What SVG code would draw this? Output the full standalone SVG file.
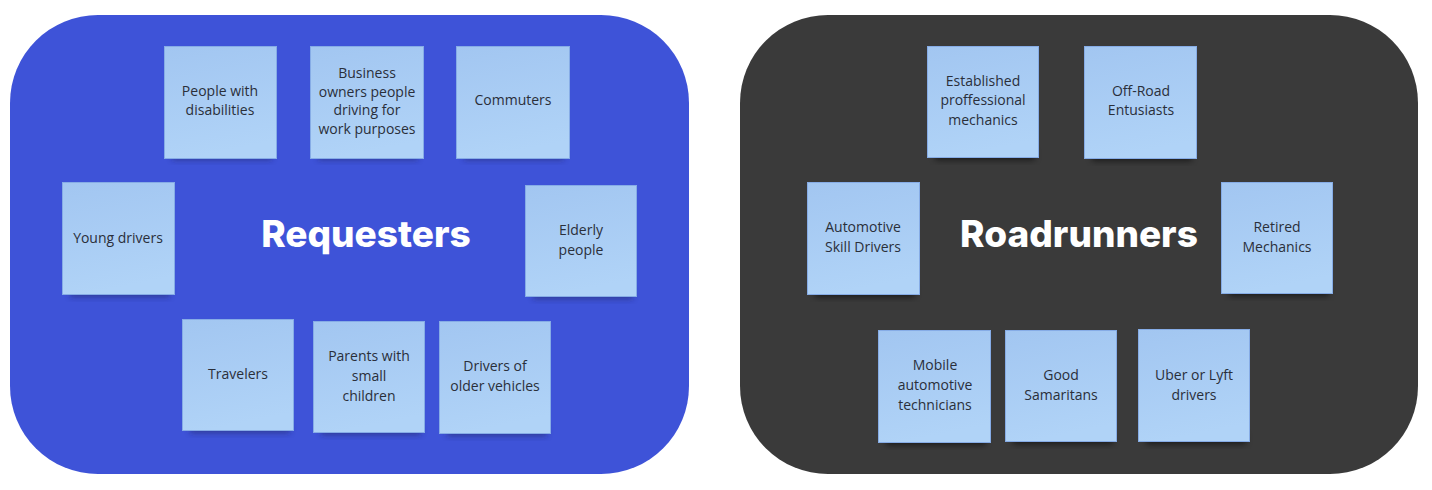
<svg xmlns="http://www.w3.org/2000/svg" width="1432" height="490" viewBox="0 0 1432 490">
<defs>
<linearGradient id="ng" x1="0" y1="0" x2="0.2" y2="1">
<stop offset="0" stop-color="#a2c6f1"/>
<stop offset="1" stop-color="#b0d3f7"/>
</linearGradient>
<filter id="sh" x="-20%" y="-50%" width="140%" height="200%">
<feGaussianBlur stdDeviation="3"/>
</filter>
<style>
.note rect.s{fill:#1a1f4a;opacity:0.45;filter:url(#sh)}
.dark .note rect.s{fill:#000;opacity:0.55}
.note rect.p{fill:url(#ng);stroke:#86ace6;stroke-width:1}
.note text{font-family:"Open Sans","Noto Sans",sans-serif;font-size:14px;fill:#2a2f3a;text-anchor:middle}
.title{font-family:Inter,"Liberation Sans",sans-serif;font-weight:800;font-size:37px;fill:#ffffff;text-anchor:middle}
</style>
</defs>
<rect x="0" y="0" width="1432" height="490" fill="#ffffff"/>

<g id="requesters">
<rect x="10" y="15" width="679" height="459" rx="88" ry="88" fill="#3e53d8"/>
<text class="title" x="366" y="247">Requesters</text>

<g id="n-people-disabilities" class="note">
<rect class="s" x="172" y="150" width="100" height="10"/>
<rect class="p" x="164.5" y="46.5" width="112" height="112"/>
<text x="220" y="96">People with</text>
<text x="220" y="115">disabilities</text>
</g>
<g id="n-business-owners" class="note">
<rect class="s" x="318" y="150" width="100" height="10"/>
<rect class="p" x="310.5" y="46.5" width="113" height="112"/>
<text x="367" y="78">Business</text>
<text x="367" y="97">owners people</text>
<text x="367" y="115">driving for</text>
<text x="367" y="134">work purposes</text>
</g>
<g id="n-commuters" class="note">
<rect class="s" x="464" y="150" width="100" height="10"/>
<rect class="p" x="456.5" y="46.5" width="113" height="112"/>
<text x="513" y="105">Commuters</text>
</g>
<g id="n-young-drivers" class="note">
<rect class="s" x="70" y="287" width="100" height="10"/>
<rect class="p" x="62.5" y="182.5" width="112" height="112"/>
<text x="118" y="243">Young drivers</text>
</g>
<g id="n-elderly" class="note">
<rect class="s" x="533" y="289" width="100" height="10"/>
<rect class="p" x="525.5" y="185.5" width="111" height="111"/>
<text x="581" y="235">Elderly</text>
<text x="581" y="255">people</text>
</g>
<g id="n-travelers" class="note">
<rect class="s" x="190" y="423" width="100" height="10"/>
<rect class="p" x="182.5" y="319.5" width="111" height="111"/>
<text x="238" y="379">Travelers</text>
</g>
<g id="n-parents" class="note">
<rect class="s" x="321" y="425" width="100" height="10"/>
<rect class="p" x="313.5" y="321.5" width="111" height="111"/>
<text x="369" y="361">Parents with</text>
<text x="369" y="381">small</text>
<text x="369" y="401">children</text>
</g>
<g id="n-older-vehicles" class="note">
<rect class="s" x="447" y="426" width="100" height="10"/>
<rect class="p" x="439.5" y="321.5" width="111" height="112"/>
<text x="495" y="371">Drivers of</text>
<text x="495" y="391">older vehicles</text>
</g>
</g>

<g id="roadrunners" class="dark">
<rect x="740" y="15" width="678" height="459" rx="88" ry="88" fill="#3a3a3a"/>
<text class="title" x="1079" y="247">Roadrunners</text>

<g id="n-established" class="note">
<rect class="s" x="935" y="150" width="100" height="10"/>
<rect class="p" x="927.5" y="46.5" width="111" height="111"/>
<text x="983" y="86">Established</text>
<text x="983" y="105">proffessional</text>
<text x="983" y="125">mechanics</text>
</g>
<g id="n-offroad" class="note">
<rect class="s" x="1092" y="151" width="100" height="10"/>
<rect class="p" x="1084.5" y="46.5" width="112" height="112"/>
<text x="1141" y="96">Off-Road</text>
<text x="1141" y="115">Entusiasts</text>
</g>
<g id="n-automotive-skill" class="note">
<rect class="s" x="815" y="287" width="100" height="10"/>
<rect class="p" x="807.5" y="182.5" width="112" height="112"/>
<text x="863" y="232">Automotive</text>
<text x="863" y="252">Skill Drivers</text>
</g>
<g id="n-retired" class="note">
<rect class="s" x="1229" y="286" width="100" height="10"/>
<rect class="p" x="1221.5" y="182.5" width="111" height="111"/>
<text x="1277" y="232">Retired</text>
<text x="1277" y="252">Mechanics</text>
</g>
<g id="n-mobile" class="note">
<rect class="s" x="886" y="435" width="100" height="10"/>
<rect class="p" x="878.5" y="330.5" width="112" height="112"/>
<text x="935" y="370">Mobile</text>
<text x="935" y="390">automotive</text>
<text x="935" y="410">technicians</text>
</g>
<g id="n-good-samaritans" class="note">
<rect class="s" x="1013" y="434" width="100" height="10"/>
<rect class="p" x="1005.5" y="330.5" width="111" height="111"/>
<text x="1061" y="380">Good</text>
<text x="1061" y="400">Samaritans</text>
</g>
<g id="n-uber-lyft" class="note">
<rect class="s" x="1146" y="434" width="100" height="10"/>
<rect class="p" x="1138.5" y="329.5" width="111" height="112"/>
<text x="1194" y="380">Uber or Lyft</text>
<text x="1194" y="400">drivers</text>
</g>
</g>
</svg>
